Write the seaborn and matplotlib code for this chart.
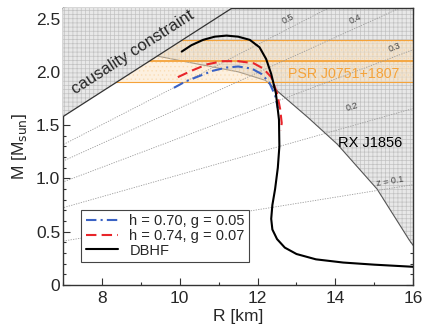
import numpy as np
import pandas as pd
import matplotlib
matplotlib.use("Agg")
import matplotlib.pyplot as plt
import seaborn as sns
from matplotlib.ticker import MultipleLocator, FixedLocator, FixedFormatter

# mass-radius curves
dbhf_r = [10.05, 10.3, 10.6, 10.9, 11.2, 11.5, 11.8, 12.05, 12.22, 12.35, 12.47, 12.55,
          12.56, 12.52, 12.45, 12.38, 12.35, 12.38, 12.5, 12.7, 13.0, 13.5, 14.2, 15.0, 16.0]
dbhf_m = [2.19, 2.25, 2.30, 2.33, 2.34, 2.33, 2.30, 2.23, 2.12, 1.98, 1.80, 1.55,
          1.30, 1.10, 0.90, 0.75, 0.62, 0.52, 0.43, 0.35, 0.29, 0.24, 0.21, 0.19, 0.17]

h70_r = [9.85, 10.15, 10.5, 10.85, 11.2, 11.5, 11.85, 12.1, 12.3, 12.45, 12.52]
h70_m = [1.85, 1.91, 1.96, 2.01, 2.04, 2.05, 2.03, 1.98, 1.90, 1.78, 1.66]

h74_r = [9.95, 10.3, 10.7, 11.1, 11.5, 11.9, 12.15, 12.35, 12.5, 12.58, 12.62, 12.6]
h74_m = [1.95, 2.01, 2.07, 2.10, 2.10, 2.08, 2.03, 1.95, 1.80, 1.65, 1.52, 1.45]

# constraints
caus_r = [7.0, 11.35]
caus_m = [1.58, 2.60]
rx_r = [9.39, 10.5, 11.5, 12.2, 12.6, 13.3, 14.05, 15.07, 15.9, 16.0]
rx_m = [2.15, 2.07, 2.00, 1.92, 1.79, 1.57, 1.32, 0.90, 0.42, 0.37]
psr_mass = 2.1
psr_err = 0.2

# redshift lines M = k * R
z_labels = ["z = 0.1", "0.2", "0.3", "0.4", "0.5"]
z_slopes = [0.0588, 0.1035, 0.138, 0.166, 0.188]
z_label_r = [15.4, 14.43, 15.52, 14.5, 12.78]
z_label_m = [0.97, 1.67, 2.23, 2.49, 2.50]

sns.set_style("ticks")
plt.rcParams["font.family"] = ["Liberation Sans", "DejaVu Sans"]
plt.rcParams["hatch.linewidth"] = 0.5

fig = plt.figure(figsize=(4.26, 3.29), dpi=100)
ax = fig.add_axes([0.148, 0.134, 0.822, 0.842])

gray_face = "#e8e8e8"
gray_hatch = "#c2c2c2"

# RX J1856 excluded region
ax.fill_between(rx_r, rx_m, 2.6, facecolor=gray_face, edgecolor=gray_hatch,
                hatch="++++", linewidth=0, zorder=1)
ax.plot(rx_r, rx_m, color="#555555", lw=0.8, zorder=1.2)

# PSR band
ax.axhspan(psr_mass - psr_err, psr_mass + psr_err, facecolor="#fce3c0", alpha=0.5,
           edgecolor="#f9cf95", hatch="....", linewidth=0, zorder=2)
for m, lw in [(psr_mass - psr_err, 0.8), (psr_mass + psr_err, 0.8), (psr_mass, 1.3)]:
    ax.axhline(m, color="#f5a33a", lw=lw, zorder=2.2)

# redshift contours
rr = np.array([0.0, 16.0])
for k, lab, lr, lm in zip(z_slopes, z_labels, z_label_r, z_label_m):
    ax.plot(rr, k * rr, color="#9a9a9a", lw=0.6, ls=(0, (1.5, 1.5)), zorder=2.5)
    ax.text(lr, lm, lab, fontsize=6.5, color="#444444", ha="center", va="center",
            rotation=np.degrees(np.arctan(k)), transform_rotates_text=True,
            rotation_mode="anchor", zorder=2.6)

# causality region
ax.fill_between(caus_r, caus_m, 2.6, facecolor=gray_face, edgecolor=gray_hatch,
                hatch="++++", linewidth=0, zorder=3)
ax.plot(caus_r, caus_m, color="#333333", lw=0.9, zorder=3.1)
caus_slope = (caus_m[1] - caus_m[0]) / (caus_r[1] - caus_r[0])
ax.text(8.8, 2.18, "causality constraint", fontsize=12, ha="center", va="center",
        rotation=np.degrees(np.arctan(caus_slope)), transform_rotates_text=True,
        rotation_mode="anchor", zorder=3.2)

ax.text(14.22, 1.98, "PSR J0751+1807", fontsize=10.2, color="#f5a33a",
        ha="center", va="center", zorder=4)
ax.text(14.9, 1.33, "RX J1856", fontsize=10.5, color="black",
        ha="center", va="center", zorder=4)

# curves
df70 = pd.DataFrame({"R": h70_r, "M": h70_m})
df74 = pd.DataFrame({"R": h74_r, "M": h74_m})
dfd = pd.DataFrame({"R": dbhf_r, "M": dbhf_m})
sns.lineplot(data=df70, x="R", y="M", sort=False, estimator=None, ax=ax,
             color="#3a62c4", lw=1.5, zorder=5, label="h = 0.70, g = 0.05")
ax.lines[-1].set_linestyle((0, (5, 2, 1, 2)))
sns.lineplot(data=df74, x="R", y="M", sort=False, estimator=None, ax=ax,
             color="#e8252a", lw=1.5, zorder=5, label="h = 0.74, g = 0.07")
ax.lines[-1].set_linestyle((0, (5, 2.5)))
sns.lineplot(data=dfd, x="R", y="M", sort=False, estimator=None, ax=ax,
             color="black", lw=1.5, zorder=6, label="DBHF")

ax.set_xlim(7, 16)
ax.set_ylim(0, 2.6)
ax.xaxis.set_major_locator(MultipleLocator(2))
ax.xaxis.set_minor_locator(MultipleLocator(1))
ax.yaxis.set_major_locator(FixedLocator([0, 0.5, 1.0, 1.5, 2.0, 2.5]))
ax.yaxis.set_major_formatter(FixedFormatter(["0", "0.5", "1.0", "1.5", "2.0", "2.5"]))
ax.yaxis.set_minor_locator(MultipleLocator(0.1))
ax.tick_params(which="both", direction="in", top=True, right=True, labelsize=12.5,
               width=0.8, color="#333333")
ax.tick_params(axis="x", which="major", length=5, pad=4.5)
ax.tick_params(axis="y", which="major", length=5, pad=2)
ax.tick_params(which="minor", length=2.5)
for s in ax.spines.values():
    s.set_linewidth(1.0)
    s.set_color("#333333")
ax.set_xlabel("R [km]", fontsize=12.5, labelpad=2)
ax.set_ylabel(r"M [M$_{\rm sun}$]", fontsize=12.5, labelpad=5)

leg = ax.legend(loc="lower left", bbox_to_anchor=(0.052, 0.083), fontsize=10.5,
                frameon=True, fancybox=False, edgecolor="#444444", framealpha=1,
                handlelength=2.2, borderpad=0.3, labelspacing=0.05, borderaxespad=0)
leg.get_frame().set_linewidth(0.8)
leg.set_zorder(10)

fig.savefig("out.png", dpi=100)
